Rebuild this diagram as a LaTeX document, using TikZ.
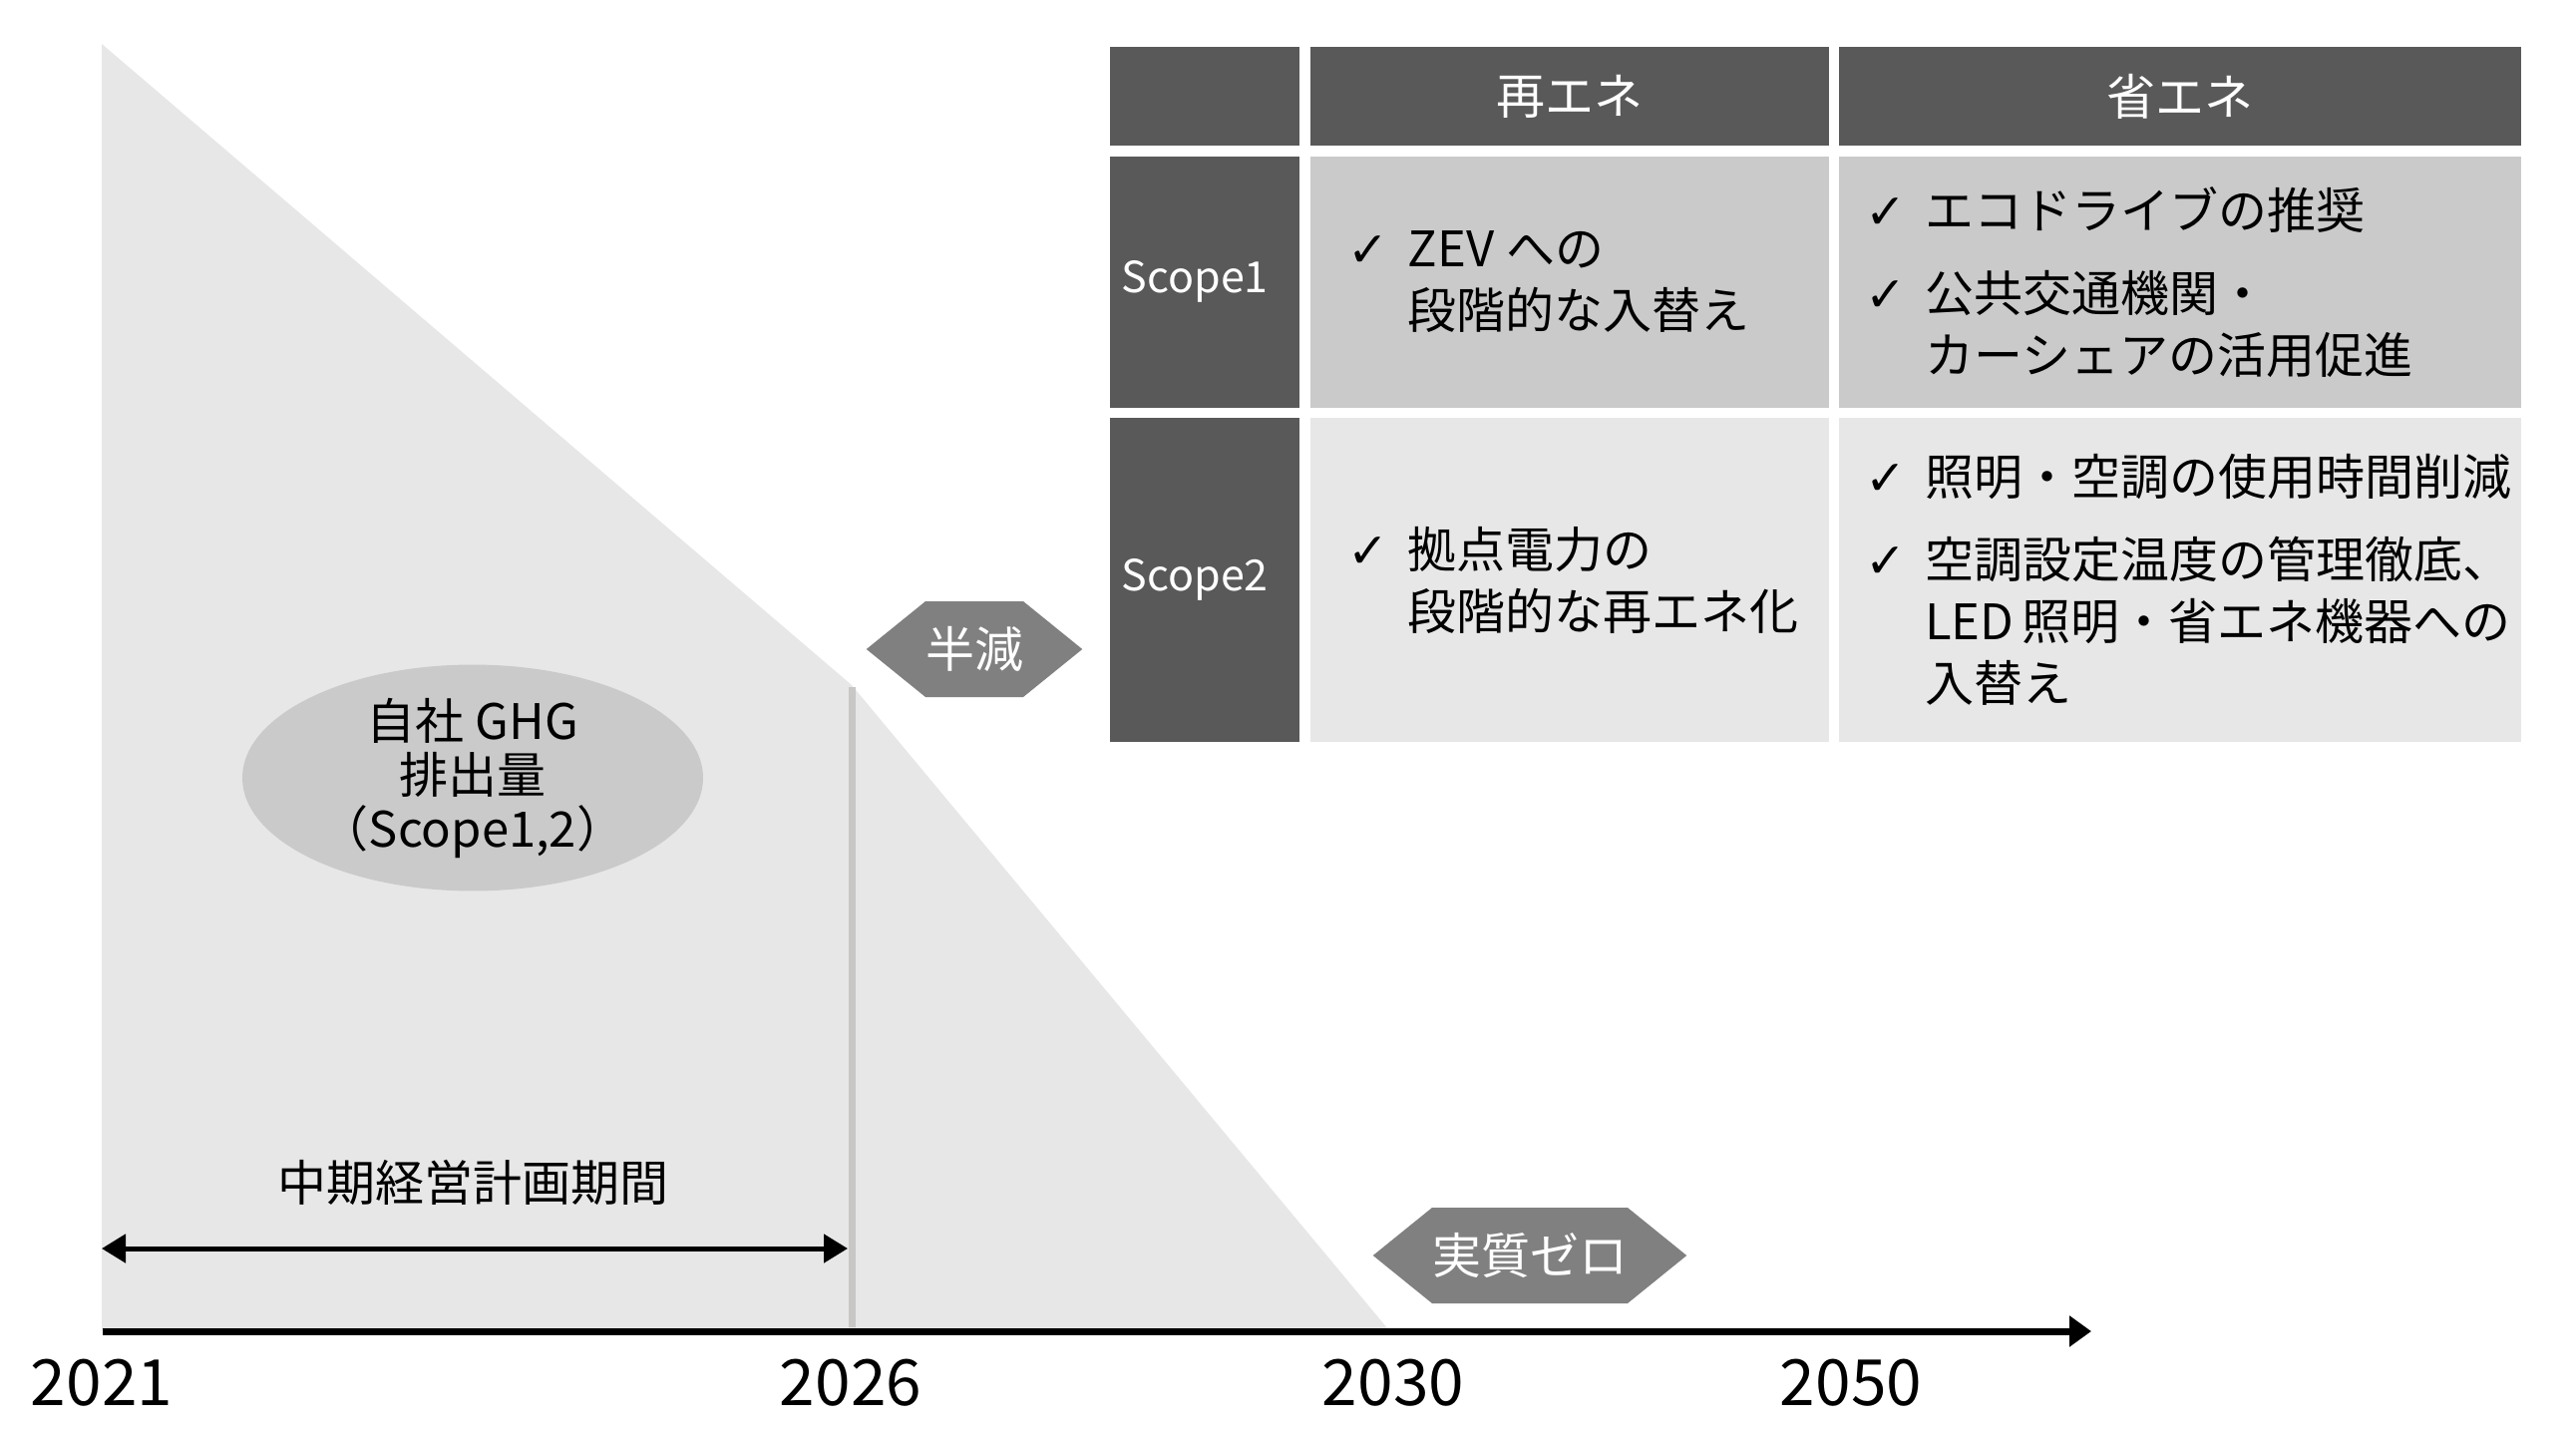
\documentclass[tikz,border=0pt]{standalone}
\usepackage{fontspec}
\setmainfont{Noto Sans CJK JP}
\newfontfamily\symfont{DejaVu Sans}
\usetikzlibrary{positioning,arrows.meta,shapes.geometric,shapes.symbols}
\definecolor{dk}{HTML}{595959}
\definecolor{lg}{HTML}{C9CAC9}
\definecolor{vl}{HTML}{E7E7E7}
\definecolor{md}{HTML}{808080}
\definecolor{br}{HTML}{C9C6C6}
\newcommand{\chk}{\makebox[60pt][l]{\symfont ✓}}
\newcommand{\ind}{\hspace*{60pt}}

\begin{document}
\begin{tikzpicture}[x=1pt,y=-1pt,every node/.style={inner sep=0pt},
  big/.style={font=\fontsize{49}{62}\selectfont},
  hd/.style={big,fill=dk,text=white,minimum height=99pt},
  lb/.style={font=\fontsize{43}{43}\selectfont,fill=dk,text=white,minimum width=190pt},
  c1/.style={big,fill=lg,align=left,minimum height=252pt},
  c2/.style={big,fill=vl,align=left,minimum height=325pt},
  w1/.style={text width=444pt,inner xsep=38pt},
  w2/.style={text width=632pt,inner xsep=26pt},
  hx/.style={big,signal,signal to=east and west,signal pointer angle=78,fill=md,text=white,minimum height=96pt},
  el/.style={ellipse,fill=lg,minimum width=462pt,minimum height=213pt,align=center,font=\fontsize{49}{54}\selectfont},
  yr/.style={font=\fontsize{64}{64}\selectfont},
  ar/.style={{Triangle[length=24pt,width=28pt]}-{Triangle[length=24pt,width=28pt]},line width=5pt},
  ax/.style={-{Triangle[length=22pt,width=30pt]},line width=7pt},
  node distance=10pt]
  \useasboundingbox (0,0) rectangle (2583,1434);
  % emissions slope
  \fill[vl] (102,44) -- (854,687) -- (1392,1333) -- (102,1333) -- cycle;
  \draw[br,line width=7pt] (854,689) -- (854,1331);
  \node[el] (ghg) at (474,780) {自社 GHG\\排出量\\（Scope1,2）};
  \node[hx,minimum width=211pt] (half) at (977,651) {半減};
  \node[hx,minimum width=306pt] (zero) at (1534,1259) {実質ゼロ};
  % table
  \node[hd,minimum width=190pt,anchor=north west] (cor) at (1113,47) {};
  \node[hd,minimum width=520pt,right=of cor] (hre) {再エネ};
  \node[hd,minimum width=684pt,right=of hre] (hsho) {省エネ};
  \node[lb,minimum height=252pt,below=of cor] (s1) {Scope1\kern20pt};
  \node[c1,w1,right=of s1] (s1re) {\chk ZEV\kern12pt への\\\ind 段階的な入替え};
  \node[c1,w2,right=of s1re] (s1sho) {\chk エコドライブの推奨\\[21pt]\chk 公共交通機関・\\\ind カーシェアの活用促進};
  \node[lb,minimum height=325pt,below=of s1] (s2) {Scope2\kern20pt};
  \node[c2,w1,right=of s2] (s2re) {\chk 拠点電力の\\\ind 段階的な再エネ化};
  \node[c2,w2,right=of s2re] (s2sho) {\chk 照明・空調の使用時間削減\\[21pt]\chk 空調設定温度の管理徹底、\\\ind LED\kern8pt 照明・省エネ機器への\\\ind 入替え};
  % timeline
  \node[big] (plan) at (474,1186) {中期経営計画期間};
  \coordinate (p0) at (102,1252);
  \coordinate (p1) at (850,1252);
  \draw[ar] (p0) -- (p1);
  \coordinate (a0) at (103,1335);
  \coordinate (a1) at (2097,1335);
  \draw[ax] (a0) -- (a1);
  \node[yr] (y21) at (102,1387) {2021};
  \node[yr] (y26) at (853,1387) {2026};
  \node[yr] (y30) at (1397,1387) {2030};
  \node[yr] (y50) at (1856,1387) {2050};
\end{tikzpicture}
\end{document}
